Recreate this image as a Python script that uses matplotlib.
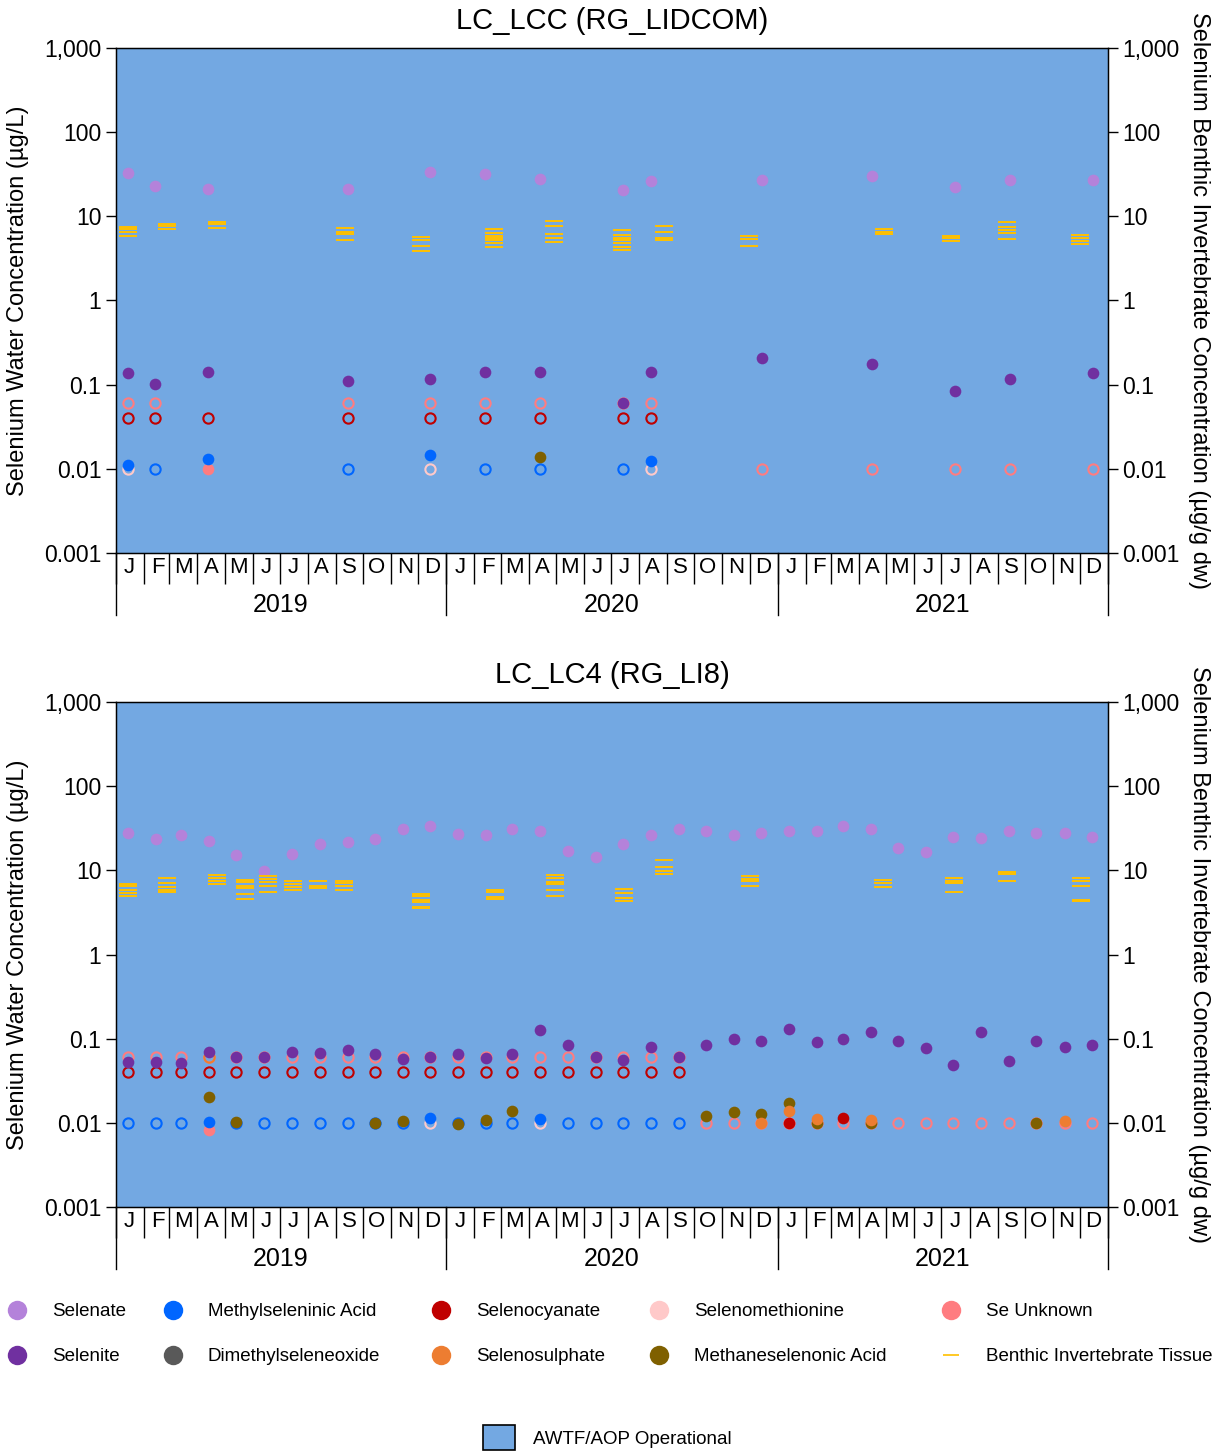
import numpy as np
import pandas as pd
import matplotlib
matplotlib.use("Agg")
import matplotlib.pyplot as plt
import matplotlib.dates as mdates
import matplotlib.ticker as mticker
from matplotlib.transforms import blended_transform_factory
from matplotlib.lines import Line2D
from matplotlib.patches import Patch

plt.rcParams['font.family'] = ['Liberation Sans', 'DejaVu Sans']

nan = np.nan

# ---------------- text / categories ----------------
titles = ["LC_LCC (RG_LIDCOM)", "LC_LC4 (RG_LI8)"]
years = [2019, 2020, 2021]
month_letters = ["J", "F", "M", "A", "M", "J", "J", "A", "S", "O", "N", "D"]
y_ticks = [0.001, 0.01, 0.1, 1, 10, 100, 1000]
y_tick_labels = ["0.001", "0.01", "0.1", "1", "10", "100", "1,000"]
left_label = "Selenium Water Concentration (µg/L)"
right_label = "Selenium Benthic Invertebrate Concentration (µg/g dw)"
awtf_label = "AWTF/AOP Operational"
awtf_period = ["2019-01-01", "2022-01-01"]

species = ["Selenate", "Selenite", "Methylseleninic Acid", "Dimethylseleneoxide",
           "Selenocyanate", "Selenosulphate", "Selenomethionine",
           "Methaneselenonic Acid", "Se Unknown"]
species_colors = ["#B482DA", "#7030A0", "#0066FF", "#595959", "#C00000",
                  "#ED7D31", "#FFC9C9", "#7F6000", "#FF7C80"]
benthic_label = "Benthic Invertebrate Tissue"
benthic_color = "#FFC000"
bg_color = "#73A8E2"

# ---------------- LC_LCC (top) water data ----------------
lcc_dates = ["2019-01-14", "2019-02-13", "2019-04-13", "2019-09-14", "2019-12-14",
             "2020-02-13", "2020-04-14", "2020-07-14", "2020-08-14", "2020-12-15",
             "2021-04-15", "2021-07-16", "2021-09-15", "2021-12-15"]
lcc_selenate = [33, 23, 21.4, 21, 34, 32, 28, 20.8, 26.6, 27, 30.5, 22.6, 27, 27]
lcc_selenite = [0.136, 0.103, 0.143, 0.11, 0.118, 0.14, 0.143, 0.06, 0.14, 0.21,
                0.174, 0.083, 0.118, 0.136]
lcc_msa = [0.011, nan, 0.013, nan, 0.0148, nan, nan, nan, 0.0125, nan, nan, nan, nan, nan]
lcc_msa_nd = [nan, 0.01, nan, 0.01, nan, 0.01, 0.01, 0.01, nan, nan, nan, nan, nan, nan]
lcc_secn_nd = [0.04, 0.04, 0.04, 0.04, 0.04, 0.04, 0.04, 0.04, 0.04, nan, nan, nan, nan, nan]
lcc_semet_nd = [0.01, nan, nan, nan, 0.01, nan, nan, nan, 0.01, nan, nan, nan, nan, nan]
lcc_mesea = [nan, nan, nan, nan, nan, nan, 0.014, nan, nan, nan, nan, nan, nan, nan]
lcc_seunk = [nan, nan, 0.01, nan, nan, nan, nan, nan, nan, nan, nan, nan, nan, nan]
lcc_seunk_nd = [0.06, 0.06, nan, 0.06, 0.06, 0.06, 0.06, 0.06, 0.06, 0.01, 0.01, 0.01, 0.01, 0.01]

# LC_LCC benthic tissue (replicates per sampling date)
lcc_bent_dates = ["2019-01-14", "2019-02-26", "2019-04-23", "2019-09-11", "2019-12-04",
                  "2020-02-23", "2020-04-29", "2020-07-13", "2020-08-29", "2020-11-30",
                  "2021-04-28", "2021-07-11", "2021-09-11", "2021-12-01"]
lcc_benthic = [[7.5, 7.1, 6.6, 5.9], [8.2, 7.6, 7.0], [8.6, 8.0, 7.2],
               [7.3, 6.6, 6.1, 5.3], [5.7, 5.2, 4.5, 3.9],
               [7.0, 6.3, 5.9, 5.6, 5.2, 4.8, 4.3], [8.7, 7.6, 6.2, 5.6, 5.0],
               [6.8, 6.0, 5.6, 5.2, 4.8, 4.3, 4.0], [7.6, 6.5, 5.5, 5.3],
               [5.9, 5.4, 4.5], [7.0, 6.5, 6.1], [5.9, 5.6, 5.1],
               [8.5, 7.4, 6.8, 6.4, 5.4], [6.0, 5.5, 5.1, 4.7]]

# ---------------- LC_LC4 (bottom) water data ----------------
lc4_dates = ["2019-01-14", "2019-02-14", "2019-03-14", "2019-04-14", "2019-05-14", "2019-06-14",
             "2019-07-14", "2019-08-14", "2019-09-14", "2019-10-14", "2019-11-14", "2019-12-14",
             "2020-01-14", "2020-02-14", "2020-03-14", "2020-04-14", "2020-05-14", "2020-06-14",
             "2020-07-14", "2020-08-14", "2020-09-14", "2020-10-14", "2020-11-14", "2020-12-14",
             "2021-01-14", "2021-02-14", "2021-03-14", "2021-04-14", "2021-05-14", "2021-06-14",
             "2021-07-14", "2021-08-14", "2021-09-14", "2021-10-14", "2021-11-14", "2021-12-14"]
lc4_selenate = [27.4, 23.8, 26, 22.6, 15.4, 9.9, 15.8, 20.8, 22, 23.8, 31.4, 34,
                27, 26, 30.6, 29, 17.2, 14.6, 20.3, 26, 31.4, 29.6, 26, 28,
                29.6, 29.6, 34, 30.6, 18.2, 16.7, 25, 24.5, 29, 27.4, 27.4, 25]
lc4_selenite = [0.053, 0.053, 0.052, 0.07, 0.06, 0.06, 0.069, 0.067, 0.073, 0.065, 0.057, 0.06,
                0.065, 0.059, 0.066, 0.128, 0.084, 0.06, 0.056, 0.08, 0.061, 0.084, 0.099, 0.093,
                0.131, 0.091, 0.099, 0.12, 0.094, 0.077, 0.048, 0.12, 0.054, 0.094, 0.08, 0.083]
lc4_msa = [nan, nan, nan, 0.0103, nan, nan, nan, nan, nan, nan, nan, 0.0113,
           nan, nan, nan, 0.011, nan, nan, nan, nan, nan, nan, nan, nan,
           nan, nan, nan, nan, nan, nan, nan, nan, nan, nan, nan, nan]
lc4_msa_nd = [0.01, 0.01, 0.01, nan, 0.01, 0.01, 0.01, 0.01, 0.01, 0.01, 0.01, nan,
              0.01, 0.01, 0.01, nan, 0.01, 0.01, 0.01, 0.01, 0.01, nan, nan, nan,
              nan, nan, nan, nan, nan, nan, nan, nan, nan, nan, nan, nan]
lc4_secn = [nan, nan, nan, nan, nan, nan, nan, nan, nan, nan, nan, nan,
            nan, nan, nan, nan, nan, nan, nan, nan, nan, nan, nan, nan,
            0.01, nan, 0.0113, nan, nan, nan, nan, nan, nan, nan, nan, nan]
lc4_secn_nd = [0.04, 0.04, 0.04, 0.04, 0.04, 0.04, 0.04, 0.04, 0.04, 0.04, 0.04, 0.04,
               0.04, 0.04, 0.04, 0.04, 0.04, 0.04, 0.04, 0.04, 0.04, nan, nan, nan,
               nan, nan, nan, nan, nan, nan, nan, nan, nan, nan, nan, nan]
lc4_seso3 = [nan, nan, nan, nan, nan, nan, nan, nan, nan, nan, nan, nan,
             nan, nan, nan, nan, nan, nan, nan, nan, nan, nan, nan, 0.01,
             0.014, 0.011, nan, 0.0108, nan, nan, nan, nan, nan, nan, 0.0106, nan]
lc4_seso3_nd = [nan, nan, nan, 0.06, nan, nan, nan, nan, nan, nan, nan, nan,
                nan, nan, nan, nan, nan, nan, nan, nan, nan, nan, nan, nan,
                nan, nan, nan, nan, nan, nan, nan, nan, nan, nan, nan, nan]
lc4_semet_nd = [nan, nan, nan, nan, nan, nan, nan, nan, nan, nan, nan, 0.01,
                nan, nan, nan, 0.01, nan, nan, nan, nan, nan, nan, nan, nan,
                nan, nan, nan, nan, nan, nan, nan, nan, nan, nan, nan, nan]
lc4_mesea = [nan, nan, nan, 0.0204, 0.0103, nan, nan, nan, nan, 0.01, 0.0105, nan,
             0.0098, 0.0108, 0.0139, nan, nan, nan, nan, nan, nan, 0.0122, 0.0135, 0.0126,
             0.0173, 0.01, nan, 0.01, nan, nan, nan, nan, nan, 0.01, nan, nan]
lc4_seunk = [nan, nan, nan, 0.0082, nan, nan, nan, nan, nan, nan, nan, nan,
             nan, nan, nan, nan, nan, nan, nan, nan, nan, nan, nan, nan,
             nan, nan, nan, nan, nan, nan, nan, nan, nan, nan, nan, nan]
lc4_seunk_nd = [0.06, 0.06, 0.06, 0.06, 0.06, 0.06, 0.06, 0.06, 0.06, 0.06, 0.06, 0.06,
                0.06, 0.06, 0.06, 0.06, 0.06, 0.06, 0.06, 0.06, 0.06, 0.01, 0.01, 0.01,
                0.01, 0.01, 0.01, 0.01, 0.01, 0.01, 0.01, 0.01, 0.01, 0.01, 0.01, 0.01]

lc4_bent_dates = ["2019-01-14", "2019-02-26", "2019-04-23", "2019-05-23", "2019-06-18",
                  "2019-07-16", "2019-08-12", "2019-09-10", "2019-12-04", "2020-02-24",
                  "2020-04-30", "2020-07-15", "2020-08-28", "2020-12-01", "2021-04-27",
                  "2021-07-15", "2021-09-11", "2021-12-02"]
lc4_benthic = [[6.8, 6.5, 5.8, 5.4, 5.0], [8.0, 7.1, 6.4, 5.8, 5.5], [8.7, 8.1, 7.4, 6.9],
               [7.6, 7.2, 6.5, 6.1, 5.3, 4.6], [8.5, 7.8, 7.2, 6.5, 5.6],
               [7.4, 6.8, 6.4, 5.8], [7.4, 6.6, 6.1], [7.4, 7.0, 6.5, 5.9],
               [5.3, 4.9, 4.5, 4.2, 3.7, 3.6], [5.9, 5.5, 4.8, 4.6],
               [8.7, 8.1, 7.2, 6.9, 5.8, 5.0], [6.0, 5.4, 4.7, 4.3],
               [13.2, 11.1, 9.9, 9.0], [8.5, 7.9, 7.4, 6.5], [7.6, 7.1, 6.3],
               [8.0, 7.4, 7.0, 5.6], [9.5, 9.0, 7.5], [8.0, 7.4, 6.5, 4.5, 4.3]]

# ---------------- styling ----------------
FILLED_MS = 8.4
OPEN_MS = 7.4
OPEN_MEW = 1.5
TICK_FS = 16.5
LABEL_FS = 17


def color_of(name):
    return species_colors[species.index(name)]


def draw_panel(ax, title, dates, filled, opened, bent_dates, benthic):
    d = pd.to_datetime(dates)
    x0, x1 = pd.to_datetime(awtf_period[0]), pd.to_datetime(awtf_period[1])
    ax.axvspan(x0, x1, color=bg_color, zorder=0, lw=0)

    # non-detects (open circles)
    for name, vals in opened:
        ax.plot(d, vals, ls="none", marker="o", ms=OPEN_MS, mfc="none",
                mec=color_of(name), mew=OPEN_MEW, zorder=3)
    # detected (filled circles)
    for name, vals in filled:
        ax.plot(d, vals, ls="none", marker="o", ms=FILLED_MS,
                mfc=color_of(name), mec="none", zorder=4)

    ax.set_yscale("log")
    ax.set_ylim(y_ticks[0], y_ticks[-1])
    ax.set_xlim(x0, x1)
    ax.yaxis.set_major_locator(mticker.FixedLocator(y_ticks))
    ax.yaxis.set_major_formatter(mticker.FixedFormatter(y_tick_labels))
    ax.yaxis.set_minor_locator(mticker.NullLocator())
    ax.tick_params(axis="y", labelsize=TICK_FS, length=7, width=1, direction="out")
    ax.set_ylabel(left_label, fontsize=LABEL_FS)
    ax.yaxis.set_label_coords(-0.088, 0.5)
    ax.set_title(title, fontsize=21, pad=14)

    # x axis: month separators + letters
    ax.xaxis.set_major_locator(mdates.MonthLocator())
    ax.xaxis.set_major_formatter(mticker.NullFormatter())
    ax.xaxis.set_minor_locator(mdates.MonthLocator(bymonthday=16))
    ax.xaxis.set_minor_formatter(mticker.FuncFormatter(
        lambda v, p: month_letters[mdates.num2date(v).month - 1]))
    ax.tick_params(axis="x", which="major", length=22, width=1, direction="out")
    ax.tick_params(axis="x", which="minor", length=0, labelsize=16, pad=3)

    trans = blended_transform_factory(ax.transData, ax.transAxes)
    for yr in years + [years[-1] + 1]:
        xd = pd.Timestamp(f"{yr}-01-01")
        ax.plot([xd, xd], [0, -0.123], transform=trans, color="black", lw=1,
                clip_on=False, zorder=5)
    for yr in years:
        xm = pd.Timestamp(f"{yr}-07-02")
        ax.text(xm, -0.102, str(yr), transform=trans, ha="center", va="center",
                fontsize=18)

    for sp in ax.spines.values():
        sp.set_linewidth(1)

    # right axis: benthic tissue
    ax2 = ax.twinx()
    ax2.set_yscale("log")
    ax2.set_ylim(y_ticks[0], y_ticks[-1])
    ax2.yaxis.set_major_locator(mticker.FixedLocator(y_ticks))
    ax2.yaxis.set_major_formatter(mticker.FixedFormatter(y_tick_labels))
    ax2.yaxis.set_minor_locator(mticker.NullLocator())
    ax2.tick_params(axis="y", labelsize=TICK_FS, length=7, width=1, direction="out")
    ax2.set_ylabel(right_label, fontsize=LABEL_FS, rotation=270, va="center")
    ax2.yaxis.set_label_coords(1.092, 0.5)
    bd = pd.to_datetime(bent_dates)
    for xd, reps in zip(bd, benthic):
        ax2.plot([xd] * len(reps), reps, ls="none", marker="_", ms=13.5,
                 mew=1.4, color=benthic_color, zorder=6)
    ax2.set_xlim(x0, x1)
    return ax2


fig = plt.figure(figsize=(12.25, 14.54), dpi=100)
ax_top = fig.add_axes([116 / 1225, 1 - 553 / 1454, 992 / 1225, 505 / 1454])
ax_bot = fig.add_axes([116 / 1225, 1 - 1207 / 1454, 992 / 1225, 505 / 1454])

draw_panel(ax_top, titles[0], lcc_dates,
           filled=[("Selenate", lcc_selenate), ("Selenite", lcc_selenite),
                   ("Se Unknown", lcc_seunk), ("Methaneselenonic Acid", lcc_mesea),
                   ("Methylseleninic Acid", lcc_msa)],
           opened=[("Selenomethionine", lcc_semet_nd), ("Methylseleninic Acid", lcc_msa_nd),
                   ("Selenocyanate", lcc_secn_nd), ("Se Unknown", lcc_seunk_nd)],
           bent_dates=lcc_bent_dates, benthic=lcc_benthic)

draw_panel(ax_bot, titles[1], lc4_dates,
           filled=[("Selenate", lc4_selenate), ("Selenite", lc4_selenite),
                   ("Se Unknown", lc4_seunk), ("Methylseleninic Acid", lc4_msa),
                   ("Methaneselenonic Acid", lc4_mesea), ("Selenosulphate", lc4_seso3),
                   ("Selenocyanate", lc4_secn)],
           opened=[("Selenomethionine", lc4_semet_nd), ("Methylseleninic Acid", lc4_msa_nd),
                   ("Selenocyanate", lc4_secn_nd), ("Se Unknown", lc4_seunk_nd),
                   ("Selenosulphate", lc4_seso3_nd)],
           bent_dates=lc4_bent_dates, benthic=lc4_benthic)

# ---------------- legends ----------------
handles = [Line2D([], [], ls="none", marker="o", ms=14, mfc=c, mec="none")
           for c in species_colors]
handles.append(Line2D([], [], ls="none", marker="_", ms=11, mew=1.2, color=benthic_color))
labels = species + [benthic_label]
col_x = [6, 162, 430, 648, 940]
for i, cx in enumerate(col_x):
    fig.legend(handles[2 * i:2 * i + 2], labels[2 * i:2 * i + 2], loc="upper left",
               bbox_to_anchor=(cx / 1225, 1 - 1303 / 1454), frameon=False,
               fontsize=13.5, handlelength=1.15, handletextpad=1.3, labelspacing=1.5,
               borderpad=0, borderaxespad=0)

fig.legend([Patch(facecolor=bg_color, edgecolor="black", lw=1.2)], [awtf_label],
           loc="upper left", bbox_to_anchor=(483 / 1225, 1 - 1425 / 1454), frameon=False,
           fontsize=13.5, handlelength=1.7, handleheight=1.7, handletextpad=0.95,
           borderpad=0, borderaxespad=0)

fig.savefig("out.png", dpi=100)
